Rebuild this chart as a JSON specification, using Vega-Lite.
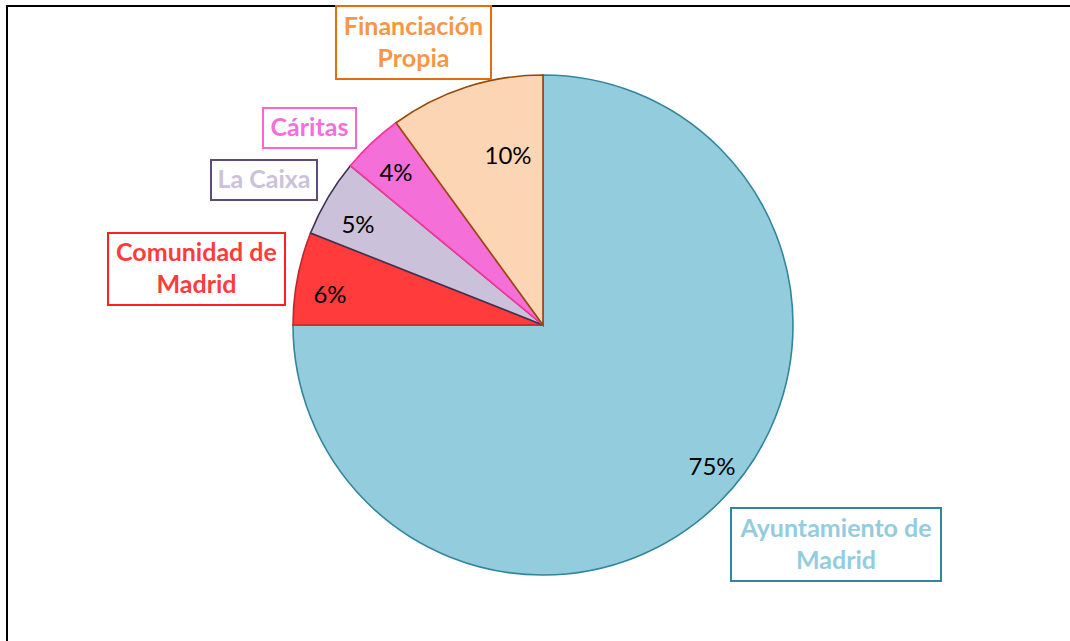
{
  "$schema": "https://vega.github.io/schema/vega-lite/v6.json",
  "width": 1072,
  "height": 638,
  "autosize": {"type": "none"},
  "padding": {"left": 7, "top": 6, "right": -9, "bottom": -3},
  "background": "white",
  "config": {"view": {"stroke": "black", "strokeWidth": 2}},
  "data": {
    "values": [
      {"source": "Ayuntamiento de Madrid", "i": 1, "pct": 75, "ptxt": "75%", "px": 0.676, "py": -0.572, "label": ["Ayuntamiento de", "Madrid"], "lines": 2, "lx": 1.172, "ly": -0.878},
      {"source": "Comunidad de Madrid", "i": 2, "pct": 6, "ptxt": "6%", "px": -0.852, "py": 0.116, "label": ["Comunidad de", "Madrid"], "lines": 2, "lx": -1.386, "ly": 0.224},
      {"source": "La Caixa", "i": 3, "pct": 5, "ptxt": "5%", "px": -0.74, "py": 0.396, "label": ["La Caixa"], "lines": 1, "lx": -1.116, "ly": 0.58},
      {"source": "Cáritas", "i": 4, "pct": 4, "ptxt": "4%", "px": -0.588, "py": 0.604, "label": ["Cáritas"], "lines": 1, "lx": -0.934, "ly": 0.788},
      {"source": "Financiación Propia", "i": 5, "pct": 10, "ptxt": "10%", "px": -0.14, "py": 0.672, "label": ["Financiación", "Propia"], "lines": 2, "lx": -0.518, "ly": 1.13}
    ]
  },
  "resolve": {"scale": {"stroke": "independent", "fill": "shared"}},
  "layer": [
    {
      "mark": {"type": "arc", "outerRadius": 250, "strokeWidth": 1.6},
      "encoding": {
        "theta": {"field": "pct", "type": "quantitative", "stack": true},
        "order": {"field": "i", "type": "quantitative"},
        "color": {
          "field": "source", "type": "nominal", "legend": null,
          "scale": {
            "domain": ["Ayuntamiento de Madrid", "Comunidad de Madrid", "La Caixa", "Cáritas", "Financiación Propia"],
            "range": ["#93CDDD", "#FF3B3B", "#CCC1DA", "#F46FD8", "#FCD5B5"]
          }
        },
        "stroke": {
          "field": "source", "type": "nominal", "legend": null,
          "scale": {
            "domain": ["Ayuntamiento de Madrid", "Comunidad de Madrid", "La Caixa", "Cáritas", "Financiación Propia"],
            "range": ["#31859C", "#C0282D", "#403152", "#FF3399", "#984807"]
          }
        }
      }
    },
    {
      "mark": {"type": "text", "font": "Lato", "fontSize": 24, "color": "black", "align": "center", "baseline": "middle"},
      "encoding": {
        "x": {"field": "px", "type": "quantitative", "axis": null, "scale": {"domain": [-2.144, 2.144], "nice": false, "zero": false}},
        "y": {"field": "py", "type": "quantitative", "axis": null, "scale": {"domain": [-1.276, 1.276], "nice": false, "zero": false}},
        "text": {"field": "ptxt"}
      }
    },
    {
      "mark": {"type": "point", "filled": true, "fill": "white", "size": 4, "strokeWidth": 2, "opacity": 1},
      "encoding": {
        "x": {"field": "lx", "type": "quantitative"},
        "y": {"field": "ly", "type": "quantitative"},
        "stroke": {
          "field": "source", "type": "nominal", "legend": null,
          "scale": {
            "domain": ["Ayuntamiento de Madrid", "Comunidad de Madrid", "La Caixa", "Cáritas", "Financiación Propia"],
            "range": ["#31859C", "#FF1F1F", "#604A7B", "#FF66CC", "#E46C0A"]
          }
        },
        "shape": {
          "field": "source", "type": "nominal", "legend": null,
          "scale": {
            "domain": ["Ayuntamiento de Madrid", "Comunidad de Madrid", "La Caixa", "Cáritas", "Financiación Propia"],
            "range": ["M-105,-36.5H105V36.5H-105Z", "M-88.5,-36H88.5V36H-88.5Z", "M-53,-20H53V20H-53Z", "M-46.5,-20H46.5V20H-46.5Z", "M-77.5,-36.5H77.5V36.5H-77.5Z"]
          }
        }
      }
    },
    {
      "transform": [{"filter": "datum.lines == 2"}],
      "mark": {"type": "text", "font": "Lato", "fontWeight": "bold", "fontSize": 25, "lineHeight": 32, "align": "center", "baseline": "middle", "dy": -16},
      "encoding": {
        "x": {"field": "lx", "type": "quantitative"},
        "y": {"field": "ly", "type": "quantitative"},
        "text": {"field": "label"},
        "fill": {
          "field": "source", "type": "nominal", "legend": null,
          "scale": {
            "domain": ["Ayuntamiento de Madrid", "Comunidad de Madrid", "La Caixa", "Cáritas", "Financiación Propia"],
            "range": ["#93CDDD", "#FF3B3B", "#CCC1DA", "#F46FDC", "#F79646"]
          }
        }
      }
    },
    {
      "transform": [{"filter": "datum.lines == 1"}],
      "mark": {"type": "text", "font": "Lato", "fontWeight": "bold", "fontSize": 25, "align": "center", "baseline": "middle"},
      "encoding": {
        "x": {"field": "lx", "type": "quantitative"},
        "y": {"field": "ly", "type": "quantitative"},
        "text": {"field": "label"},
        "fill": {
          "field": "source", "type": "nominal", "legend": null,
          "scale": {
            "domain": ["Ayuntamiento de Madrid", "Comunidad de Madrid", "La Caixa", "Cáritas", "Financiación Propia"],
            "range": ["#93CDDD", "#FF3B3B", "#CCC1DA", "#F46FDC", "#F79646"]
          }
        }
      }
    }
  ]
}
